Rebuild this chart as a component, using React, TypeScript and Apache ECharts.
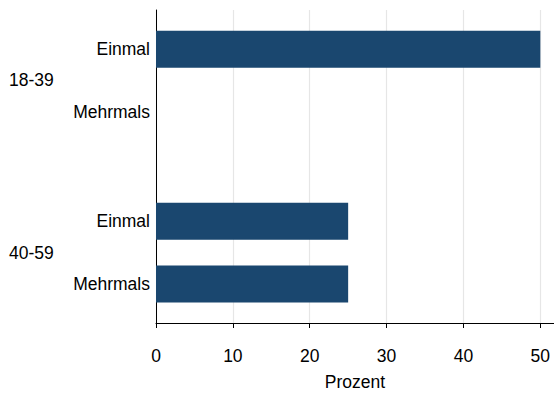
import React, { useEffect, useRef } from "react";
import * as echarts from "echarts";

// ---- data ----
const groups = ["18-39", "40-59"];
const subCategories = ["Einmal", "Mehrmals"];
const valuesEinmal = [50, 25];
const valuesMehrmals = [0, 25];
const xTicks = [0, 10, 20, 30, 40, 50];
const xAxisTitle = "Prozent";

// ---- layout (slot-based category positions) ----
const TOTAL_SLOTS = 20;
const LEAD = 2;
const SUB_STEP = 4;
const GROUP_STEP = 11;

export default function App() {
  const ref = useRef<HTMLDivElement>(null);

  useEffect(() => {
    if (!ref.current) return;
    const chart = echarts.init(ref.current, undefined, { renderer: "svg" });

    const seriesValues = [valuesEinmal, valuesMehrmals];
    const slotIds: string[] = [];
    const subLabels: string[] = [];
    const groupLabels: string[] = [];
    const barData: (number | string)[] = [];
    for (let i = 0; i < TOTAL_SLOTS; i++) {
      slotIds.push("s" + i);
      subLabels.push("");
      groupLabels.push("");
      barData.push("-");
    }
    groups.forEach((g, gi) => {
      const base = LEAD + gi * GROUP_STEP;
      subCategories.forEach((s, si) => {
        const slot = base + si * SUB_STEP;
        subLabels[slot] = s;
        barData[slot] = seriesValues[si][gi];
      });
      groupLabels[base + SUB_STEP / 2] = g;
    });

    const font = "'Liberation Sans', Arial, sans-serif";
    const fs = 17.5;

    chart.setOption({
      animation: false,
      textStyle: { fontFamily: font },
      grid: { left: 156, right: 0, top: 10, height: 316.5, containLabel: false },
      xAxis: {
        type: "value",
        min: 0,
        max: 51.78,
        name: xAxisTitle,
        nameLocation: "middle",
        nameGap: 50,
        nameTextStyle: { fontSize: fs, color: "#000", fontFamily: font },
        axisLine: { show: true, lineStyle: { color: "#000", width: 1 } },
        axisTick: {
          show: true,
          customValues: xTicks,
          length: 5,
          lineStyle: { color: "#000" },
        },
        axisLabel: {
          customValues: xTicks,
          margin: 24,
          fontSize: fs,
          color: "#000",
          fontFamily: font,
        },
        splitLine: { show: true, lineStyle: { color: "#e6e6e6", width: 1.2 } },
      },
      yAxis: [
        {
          type: "category",
          data: slotIds,
          inverse: true,
          position: "left",
          axisLine: { show: true, onZero: false, lineStyle: { color: "#000", width: 1 } },
          axisTick: { show: false },
          splitLine: { show: false },
          axisLabel: {
            interval: 0,
            margin: 6,
            fontSize: fs,
            color: "#000",
            fontFamily: font,
            padding: [3, 0, 0, 0],
            formatter: (_v: string, idx: number) => subLabels[idx],
          },
        },
        {
          type: "category",
          data: slotIds,
          inverse: true,
          position: "left",
          axisLine: { show: false },
          axisTick: { show: false },
          splitLine: { show: false },
          axisLabel: {
            interval: 0,
            margin: 147,
            align: "left",
            fontSize: fs,
            color: "#000",
            fontFamily: font,
            padding: [4, 0, 0, 0],
            formatter: (_v: string, idx: number) => groupLabels[idx],
          },
        },
      ],
      series: [
        {
          type: "bar",
          yAxisIndex: 0,
          data: barData,
          barWidth: 37,
          itemStyle: { color: "#1a476f" },
        },
      ],
    });

    return () => chart.dispose();
  }, []);

  return (
    <div
      ref={ref}
      style={{ position: "fixed", left: 0, top: 0, width: 554, height: 396, background: "#fff" }}
    />
  );
}
